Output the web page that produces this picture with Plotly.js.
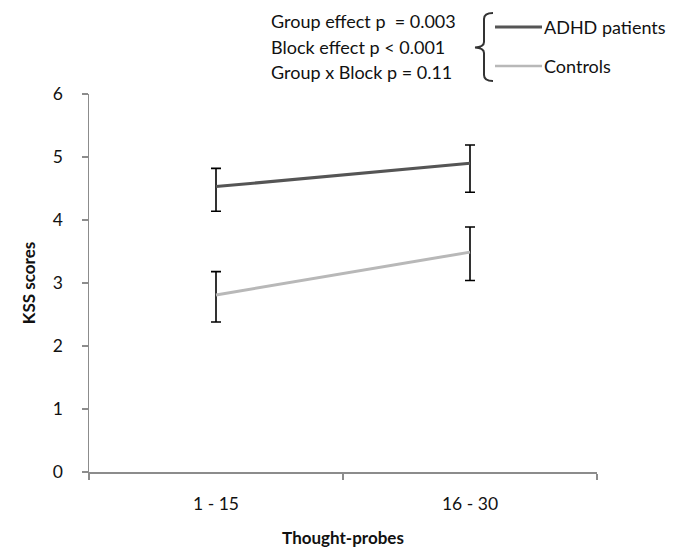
<!DOCTYPE html>
<html>
<head>
<meta charset="utf-8">
<script src="https://cdn.plot.ly/plotly-3.0.1.min.js"></script>
<style>html,body{margin:0;padding:0;background:#fff;}#chart{width:681px;height:548px;}</style>
</head>
<body>
<div id="chart"></div>
<script>
var categories = ['1 - 15', '16 - 30'];
var adhdMeans = [4.53, 4.90];
var adhdErrPlus = [0.29, 0.29];
var adhdErrMinus = [0.39, 0.46];
var controlMeans = [2.81, 3.49];
var controlErrPlus = [0.37, 0.40];
var controlErrMinus = [0.43, 0.45];
var yTicks = [0, 1, 2, 3, 4, 5, 6];
var statLines = ['Group effect p &nbsp;= 0.003', 'Block effect p < 0.001', 'Group x Block p = 0.11'];
var legendNames = ['ADHD patients', 'Controls'];

var FONT = 'Lato, "Open Sans", sans-serif';
var L = 89, R = 597, T = 94, B = 472;
function px(x) { return (x - L) / (R - L); }
function py(y) { return (B - y) / (B - T); }
function pt(x, y) { return px(x) + ',' + py(y); }

var traces = [
  {
    x: categories, y: adhdMeans, type: 'scatter', mode: 'lines',
    name: legendNames[0],
    line: {color: '#555555', width: 3},
    error_y: {type: 'data', symmetric: false, array: adhdErrPlus, arrayminus: adhdErrMinus,
              color: '#000', thickness: 1.6, width: 5}
  },
  {
    x: categories, y: controlMeans, type: 'scatter', mode: 'lines',
    name: legendNames[1],
    line: {color: '#b8b8b8', width: 3},
    error_y: {type: 'data', symmetric: false, array: controlErrPlus, arrayminus: controlErrMinus,
              color: '#000', thickness: 1.6, width: 5}
  }
];

var annotations = [];
var statY = [21, 46.5, 72];
statLines.forEach(function (t, i) {
  annotations.push({xref: 'paper', yref: 'paper', x: px(269), y: py(statY[i]),
    xanchor: 'left', yanchor: 'middle', text: t, showarrow: false,
    font: {family: FONT, size: 18, color: '#111'}});
});
var legY = [27, 66];
legendNames.forEach(function (t, i) {
  annotations.push({xref: 'paper', yref: 'paper', x: px(542), y: py(legY[i]),
    xanchor: 'left', yanchor: 'middle', text: t, showarrow: false,
    font: {family: FONT, size: 18, color: '#111'}});
});

var shapes = [
  {type: 'line', xref: 'paper', yref: 'paper', x0: px(495), x1: px(542), y0: py(27), y1: py(27),
   line: {color: '#555555', width: 3}},
  {type: 'line', xref: 'paper', yref: 'paper', x0: px(495), x1: px(542), y0: py(66), y1: py(66),
   line: {color: '#b8b8b8', width: 2.5}},
  {type: 'path', xref: 'paper', yref: 'paper',
   path: 'M' + pt(493, 13) + ' Q' + pt(484, 13) + ' ' + pt(484, 19) +
         ' L' + pt(484, 42) + ' Q' + pt(484, 47) + ' ' + pt(475, 47.5) +
         ' Q' + pt(484, 48) + ' ' + pt(484, 53) +
         ' L' + pt(484, 75) + ' Q' + pt(484, 81) + ' ' + pt(493, 81),
   line: {color: '#333', width: 2}}
];

var layout = {
  width: 681, height: 548,
  margin: {l: L, r: 681 - R, t: T, b: 548 - B},
  paper_bgcolor: '#fff', plot_bgcolor: '#fff',
  showlegend: false,
  font: {family: FONT, size: 17, color: '#111'},
  xaxis: {
    type: 'category', range: [-0.5, 1.5], tickson: 'boundaries',
    showline: true, linecolor: '#8c8c8c', linewidth: 1.5,
    ticks: 'outside', ticklen: 6, tickcolor: '#8c8c8c', tickwidth: 1.5,
    showgrid: false, zeroline: false,
    tickfont: {family: FONT, size: 17.5, color: '#111'},
    ticklabelstandoff: 15,
    title: {text: '<b>Thought-probes</b>', font: {family: FONT, size: 17, color: '#111'}, standoff: 22}
  },
  yaxis: {
    range: [0, 6], tickvals: yTicks, ticktext: yTicks.map(String),
    showline: true, linecolor: '#8c8c8c', linewidth: 1.5,
    ticks: 'outside', ticklen: 6, tickcolor: '#8c8c8c', tickwidth: 1.5,
    showgrid: false, zeroline: false,
    tickfont: {family: FONT, size: 17.5, color: '#111'},
    ticklabelstandoff: 15,
    title: {text: '<b>KSS scores</b>', font: {family: FONT, size: 17, color: '#111'}, standoff: 13}
  },
  annotations: annotations,
  shapes: shapes
};

Plotly.newPlot('chart', traces, layout, {displayModeBar: false, staticPlot: true});
</script>
</body>
</html>
